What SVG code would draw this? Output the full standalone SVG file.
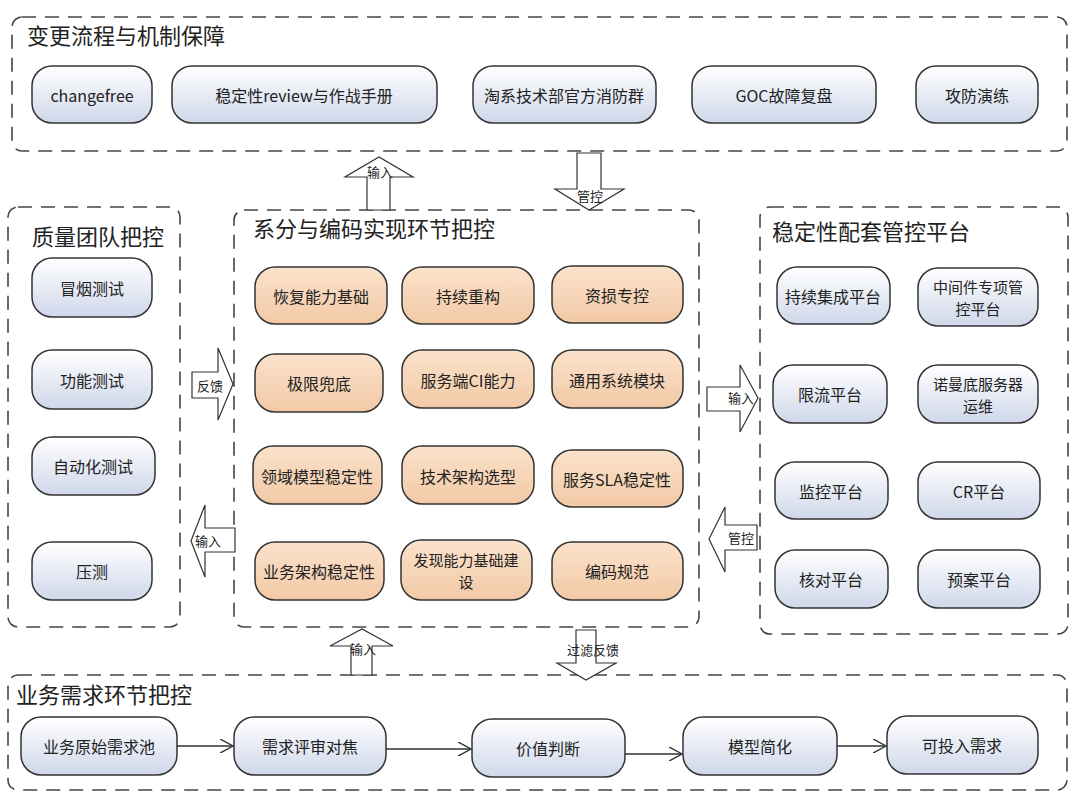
<svg xmlns="http://www.w3.org/2000/svg" width="1080" height="799" viewBox="0 0 1080 799">
<defs>
<linearGradient id="gBlue" x1="0" y1="0" x2="0" y2="1">
<stop offset="0" stop-color="#ffffff"/><stop offset="1" stop-color="#cfd7ea"/>
</linearGradient>
<linearGradient id="gTan" x1="0" y1="0" x2="0" y2="1">
<stop offset="0" stop-color="#fbe2cb"/><stop offset="1" stop-color="#f2c9a6"/>
</linearGradient>
<marker id="open" viewBox="0 0 12 12" refX="11" refY="6" markerWidth="14" markerHeight="14" markerUnits="userSpaceOnUse" orient="auto">
<path d="M0,0 L11,6 L0,12" fill="none" stroke="#333" stroke-width="1.2"/>
</marker>
</defs>
<style>
text{font-family:"Noto Sans CJK SC","Noto Sans",sans-serif;fill:#222}
.cont{fill:none;stroke:#444;stroke-width:1.6;stroke-dasharray:14 9}
.title{font-size:22px}
.b{fill:url(#gBlue);stroke:#333;stroke-width:1.5}
.t{fill:url(#gTan);stroke:#333;stroke-width:1.5}
.nt{font-size:16px;text-anchor:middle;dominant-baseline:central}
.nt2{font-size:15px;text-anchor:middle;dominant-baseline:central}
.blk{fill:#fff;stroke:#333;stroke-width:1.2}
.al{font-size:13px;text-anchor:middle;dominant-baseline:central}
.ln{stroke:#333;stroke-width:1.3;fill:none}
</style>
<rect width="1080" height="799" fill="#fff"/>

<g id="containers">
<rect class="cont" x="12" y="17" width="1055" height="134" rx="10"/>
<text class="title" x="27" y="44">变更流程与机制保障</text>
<rect class="cont" x="8" y="207" width="172" height="420" rx="10"/>
<text class="title" x="32" y="245">质量团队把控</text>
<rect class="cont" x="234" y="210" width="465" height="417" rx="10"/>
<text class="title" x="253" y="237">系分与编码实现环节把控</text>
<rect class="cont" x="760" y="207" width="308" height="427" rx="10"/>
<text class="title" x="772" y="240">稳定性配套管控平台</text>
<rect class="cont" x="8" y="675" width="1059" height="115" rx="10"/>
<text class="title" x="16" y="703">业务需求环节把控</text>
</g>

<g id="top-nodes">
<g id="n-changefree"><rect class="b" x="32" y="66" width="120" height="57" rx="20"/><text class="nt" x="92" y="95">changefree</text></g>
<g id="n-review"><rect class="b" x="172" y="66" width="265" height="57" rx="20"/><text class="nt" x="304" y="95">稳定性review与作战手册</text></g>
<g id="n-fire"><rect class="b" x="473" y="66" width="183" height="57" rx="20"/><text class="nt" x="564" y="95">淘系技术部官方消防群</text></g>
<g id="n-goc"><rect class="b" x="692" y="66" width="184" height="57" rx="20"/><text class="nt" x="784" y="95">GOC故障复盘</text></g>
<g id="n-drill"><rect class="b" x="916" y="66" width="122" height="57" rx="20"/><text class="nt" x="977" y="95">攻防演练</text></g>
</g>

<g id="left-nodes">
<g id="n-smoke"><rect class="b" x="32" y="258" width="120" height="59" rx="20"/><text class="nt" x="92" y="288">冒烟测试</text></g>
<g id="n-func"><rect class="b" x="32" y="350" width="120" height="59" rx="20"/><text class="nt" x="92" y="380">功能测试</text></g>
<g id="n-auto"><rect class="b" x="32" y="437" width="123" height="58" rx="20"/><text class="nt" x="93" y="466">自动化测试</text></g>
<g id="n-press"><rect class="b" x="32" y="542" width="120" height="58" rx="20"/><text class="nt" x="92" y="571">压测</text></g>
</g>

<g id="mid-nodes">
<g id="n-m1"><rect class="t" x="255" y="267" width="132" height="57" rx="20"/><text class="nt" x="321" y="296">恢复能力基础</text></g>
<g id="n-m2"><rect class="t" x="402" y="267" width="132" height="57" rx="20"/><text class="nt" x="468" y="296">持续重构</text></g>
<g id="n-m3"><rect class="t" x="552" y="266" width="131" height="57" rx="20"/><text class="nt" x="617" y="295">资损专控</text></g>
<g id="n-m4"><rect class="t" x="255" y="354" width="128" height="58" rx="20"/><text class="nt" x="319" y="383">极限兜底</text></g>
<g id="n-m5"><rect class="t" x="402" y="350" width="132" height="58" rx="20"/><text class="nt" x="468" y="380">服务端CI能力</text></g>
<g id="n-m6"><rect class="t" x="552" y="350" width="131" height="58" rx="20"/><text class="nt" x="617" y="380">通用系统模块</text></g>
<g id="n-m7"><rect class="t" x="253" y="446" width="129" height="58" rx="20"/><text class="nt" x="317" y="476">领域模型稳定性</text></g>
<g id="n-m8"><rect class="t" x="402" y="446" width="132" height="58" rx="20"/><text class="nt" x="468" y="476">技术架构选型</text></g>
<g id="n-m9"><rect class="t" x="552" y="450" width="131" height="57" rx="20"/><text class="nt" x="617" y="479">服务SLA稳定性</text></g>
<g id="n-m10"><rect class="t" x="255" y="542" width="129" height="58" rx="20"/><text class="nt" x="319" y="571">业务架构稳定性</text></g>
<g id="n-m11"><rect class="t" x="401" y="540" width="131" height="60" rx="20"/><text class="nt2" x="466" y="559">发现能力基础建</text><text class="nt2" x="466" y="581">设</text></g>
<g id="n-m12"><rect class="t" x="552" y="542" width="131" height="58" rx="20"/><text class="nt" x="617" y="571">编码规范</text></g>
</g>

<g id="right-nodes">
<g id="n-r1"><rect class="b" x="777" y="267" width="113" height="57" rx="20"/><text class="nt" x="833" y="296">持续集成平台</text></g>
<g id="n-r2"><rect class="b" x="918" y="268" width="120" height="58" rx="20"/><text class="nt2" x="978" y="286">中间件专项管</text><text class="nt2" x="978" y="308">控平台</text></g>
<g id="n-r3"><rect class="b" x="773" y="365" width="114" height="58" rx="20"/><text class="nt" x="830" y="394">限流平台</text></g>
<g id="n-r4"><rect class="b" x="918" y="365" width="120" height="58" rx="20"/><text class="nt2" x="978" y="383">诺曼底服务器</text><text class="nt2" x="978" y="405">运维</text></g>
<g id="n-r5"><rect class="b" x="775" y="462" width="113" height="57" rx="20"/><text class="nt" x="831" y="491">监控平台</text></g>
<g id="n-r6"><rect class="b" x="918" y="462" width="122" height="57" rx="20"/><text class="nt" x="979" y="491">CR平台</text></g>
<g id="n-r7"><rect class="b" x="775" y="550" width="113" height="58" rx="20"/><text class="nt" x="831" y="579">核对平台</text></g>
<g id="n-r8"><rect class="b" x="918" y="550" width="122" height="58" rx="20"/><text class="nt" x="979" y="579">预案平台</text></g>
</g>

<g id="bottom-nodes">
<g id="n-b1"><rect class="b" x="21" y="717" width="156" height="58" rx="20"/><text class="nt" x="99" y="746">业务原始需求池</text></g>
<g id="n-b2"><rect class="b" x="234" y="717" width="152" height="58" rx="20"/><text class="nt" x="310" y="746">需求评审对焦</text></g>
<g id="n-b3"><rect class="b" x="472" y="719" width="153" height="58" rx="20"/><text class="nt" x="548" y="748">价值判断</text></g>
<g id="n-b4"><rect class="b" x="683" y="717" width="154" height="58" rx="20"/><text class="nt" x="760" y="746">模型简化</text></g>
<g id="n-b5"><rect class="b" x="887" y="716" width="151" height="58" rx="20"/><text class="nt" x="962" y="745">可投入需求</text></g>
</g>

<g id="connectors">
<polygon class="blk" points="367,210 367,177 345,177 379,157 413,177 390,177 390,210"/>
<text class="al" x="380" y="171">输入</text>
<polygon class="blk" points="577,153 601,153 601,189 624,189 589,210 555,189 577,189"/>
<text class="al" x="590" y="195">管控</text>
<polygon class="blk" points="192,372 218,372 218,348 233,384 218,420 218,398 192,398"/>
<text class="al" x="210" y="385">反馈</text>
<polygon class="blk" points="235,528 205,528 205,505 191,541 205,577 205,552 235,552"/>
<text class="al" x="208" y="540">输入</text>
<polygon class="blk" points="707,387 740,387 740,365 758,398 740,432 740,411 707,411"/>
<text class="al" x="741" y="397">输入</text>
<polygon class="blk" points="757,525 725,525 725,507 709,539 725,572 725,550 757,550"/>
<text class="al" x="741" y="537">管控</text>
<polygon class="blk" points="351,675 351,646 330,646 362,629 393,646 372,646 372,675"/>
<text class="al" x="363" y="648">输入</text>
<polygon class="blk" points="576,630 596,630 596,663 616,663 586,680 557,663 576,663"/>
<text class="al" x="593" y="649">过滤反馈</text>
<line class="ln" x1="177" y1="746" x2="233" y2="746" marker-end="url(#open)"/>
<line class="ln" x1="386" y1="749" x2="471" y2="749" marker-end="url(#open)"/>
<line class="ln" x1="625" y1="754" x2="682" y2="754" marker-end="url(#open)"/>
<line class="ln" x1="837" y1="746" x2="886" y2="746" marker-end="url(#open)"/>
</g>
</svg>
